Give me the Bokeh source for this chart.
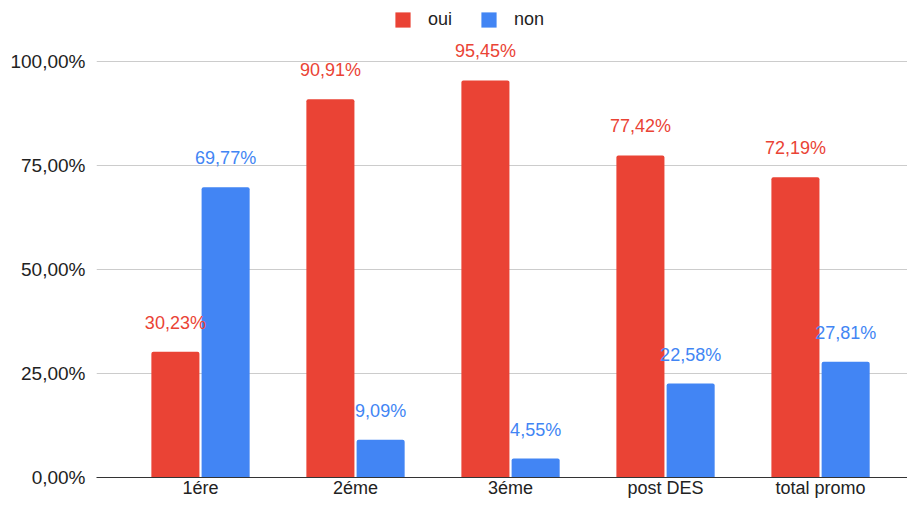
from bokeh.plotting import figure
from bokeh.models import ColumnDataSource, Range1d, FixedTicker, Legend, LegendItem
from bokeh.transform import dodge
from bokeh.core.properties import value
from bokeh.embed import file_html
from bokeh.resources import INLINE

categories = ["1ére", "2éme", "3éme", "post DES", "total promo"]
oui = [30.23, 90.91, 95.45, 77.42, 72.19]
non = [69.77, 9.09, 4.55, 22.58, 27.81]
y_ticks = [0, 25, 50, 75, 100]

RED = "#ea4335"
BLUE = "#4285f4"
FONT = "Liberation Sans"

def fmt(v):
    return f"{v:.2f}".replace(".", ",") + "%"

src = ColumnDataSource(dict(
    x=list(range(len(categories))),
    oui=oui, non=non,
    oui_lbl=[fmt(v) for v in oui],
    non_lbl=[fmt(v) for v in non],
))

p = figure(width=907, height=500, output_backend="svg", toolbar_location=None,
           x_range=Range1d(-0.671, 4.561), y_range=Range1d(0, 114.66),
           min_border_left=96, min_border_right=0, min_border_top=0, min_border_bottom=22)
p.outline_line_color = None
p.background_fill_color = "white"
p.border_fill_color = "white"

r1 = p.vbar(x=dodge("x", -0.162, range=p.x_range), top="oui", width=0.31, bottom=0,
            source=src, fill_color=RED, line_color=None, border_radius=(2, 2, 0, 0))
r2 = p.vbar(x=dodge("x", 0.162, range=p.x_range), top="non", width=0.31, bottom=0,
            source=src, fill_color=BLUE, line_color=None, border_radius=(2, 2, 0, 0))

p.text(x=dodge("x", -0.162, range=p.x_range), y="oui", text="oui_lbl", source=src,
       text_align="center", text_baseline="alphabetic", y_offset=-29,
       text_font=value(FONT), text_font_size="18px", text_color=RED)
p.text(x=dodge("x", 0.162, range=p.x_range), y="non", text="non_lbl", source=src,
       text_align="center", text_baseline="alphabetic", y_offset=-29,
       text_font=value(FONT), text_font_size="18px", text_color=BLUE)

# axes
p.xaxis.ticker = FixedTicker(ticks=list(range(len(categories))))
p.xaxis.major_label_overrides = {i: c for i, c in enumerate(categories)}
p.xaxis.major_tick_line_color = None
p.xaxis.minor_tick_line_color = None
p.xaxis.major_tick_out = 0
p.xaxis.major_tick_in = 0
p.xaxis.axis_line_color = "#333333"
p.xaxis.major_label_standoff = 0
p.xaxis.major_label_text_font = FONT
p.xaxis.major_label_text_font_size = "18px"
p.xaxis.major_label_text_color = "#222222"

p.yaxis.ticker = FixedTicker(ticks=y_ticks)
p.yaxis.major_label_overrides = {t: fmt(t) for t in y_ticks}
p.yaxis.major_tick_line_color = None
p.yaxis.minor_tick_line_color = None
p.yaxis.major_tick_out = 0
p.yaxis.major_tick_in = 0
p.yaxis.axis_line_color = None
p.yaxis.major_label_standoff = 11
p.yaxis.major_label_text_font = FONT
p.yaxis.major_label_text_font_size = "19px"
p.yaxis.major_label_text_color = "#222222"

p.xgrid.grid_line_color = None
p.ygrid.grid_line_color = "#cccccc"
p.ygrid.ticker = FixedTicker(ticks=y_ticks)

legend = Legend(items=[LegendItem(label="oui", renderers=[r1]),
                       LegendItem(label="non", renderers=[r2])],
                orientation="horizontal", location=(297, 447),
                glyph_width=19, glyph_height=19, label_height=19,
                label_standoff=16, spacing=27, padding=0, margin=0,
                border_line_color=None, background_fill_alpha=0,
                label_text_font=FONT, label_text_font_size="18px",
                label_text_color="#222222")
p.add_layout(legend)

open("out.html", "w").write(file_html(p, INLINE))
